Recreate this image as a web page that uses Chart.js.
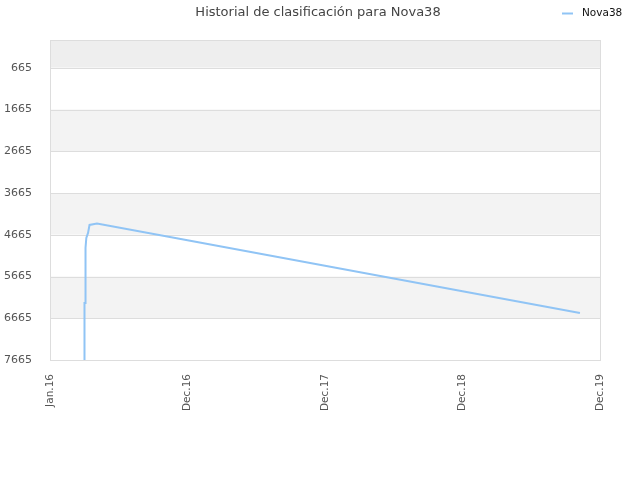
<!DOCTYPE html>
<html>
<head>
<meta charset="utf-8">
<script src="https://cdn.jsdelivr.net/npm/chart.js@4"></script>
<style>
  html, body { margin: 0; padding: 0; background: #fff; }
  #wrap { width: 640px; height: 480px; }
</style>
</head>
<body>
<div id="wrap"><canvas id="rankChart" width="640" height="480"></canvas></div>
<script>
  // months since Jan 2016
  var months = [3.01, 3.01, 3.10, 3.10, 3.17, 3.32, 3.45, 4.10, 12, 24, 36, 46.25];
  var ranks  = [7665, 6300, 6300, 4980, 4740, 4620, 4430, 4395, 4796, 5407, 6019, 6539];
  var xTickMonths = [0, 12, 24, 36, 48];
  var xTickLabels = ["Jan.16", "Dec.16", "Dec.17", "Dec.18", "Dec.19"];
  var yTicks = [665, 1665, 2665, 3665, 4665, 5665, 6665, 7665];

  var points = months.map(function (m, i) { return { x: m, y: ranks[i] }; });

  var lineColor = "rgba(144,196,245,1)";

  // background bands + frame + title + legend
  var decor = {
    id: 'decor',
    beforeDatasetsDraw: function (chart) {
      var c = chart.ctx, a = chart.chartArea, ys = chart.scales.y;
      c.save();
      // top strip above first tick
      var t0 = ys.getPixelForValue(yTicks[0]);
      c.fillStyle = "#eeeeee";
      c.fillRect(a.left, a.top, a.right - a.left, t0 - a.top);
      for (var i = 0; i < yTicks.length - 1; i++) {
        var p1 = ys.getPixelForValue(yTicks[i]);
        var p2 = ys.getPixelForValue(yTicks[i + 1]);
        c.fillStyle = (i % 2 == 1) ? "#f3f3f3" : "#ffffff";
        c.fillRect(a.left, p1, a.right - a.left, p2 - p1);
      }
      // grid lines
      c.strokeStyle = "#dddddd";
      c.lineWidth = 1;
      yTicks.forEach(function (v) {
        var p = Math.round(ys.getPixelForValue(v)) + 0.5;
        c.beginPath(); c.moveTo(a.left, p); c.lineTo(a.right, p); c.stroke();
      });
      c.strokeRect(Math.round(a.left) + 0.5, Math.round(a.top) + 0.5,
                   Math.round(a.right - a.left), Math.round(a.bottom - a.top));
      c.restore();
    },
    afterDraw: function (chart) {
      var c = chart.ctx;
      c.save();
      c.fillStyle = "#444";
      c.font = "13px 'DejaVu Sans'";
      c.textAlign = "center";
      c.textBaseline = "middle";
      c.fillText("Historial de clasificación para Nova38", 318, 13);
      // legend
      c.strokeStyle = lineColor;
      c.lineWidth = 2;
      c.beginPath(); c.moveTo(562, 13.5); c.lineTo(573, 13.5); c.stroke();
      c.fillStyle = "#111";
      c.font = "10.5px 'DejaVu Sans'";
      c.textAlign = "left";
      c.fillText("Nova38", 582, 13);
      c.restore();
    }
  };

  var ctx = document.getElementById("rankChart").getContext('2d');
  var myChart = new Chart(ctx, {
    type: 'line',
    data: {
      datasets: [{
        label: 'Nova38',
        data: points,
        borderColor: lineColor,
        backgroundColor: lineColor,
        borderWidth: 2,
        pointRadius: 0,
        tension: 0,
        fill: false
      }]
    },
    options: {
      responsive: false,
      animation: false,
      devicePixelRatio: 1,
      layout: { padding: { top: 40, right: 40, left: 0, bottom: 0 } },
      plugins: {
        legend: { display: false },
        title: { display: false },
        tooltip: { enabled: false }
      },
      scales: {
        x: {
          type: 'linear',
          min: 0,
          max: 48,
          grid: { display: false },
          border: { display: false },
          afterBuildTicks: function (s) {
            s.ticks = xTickMonths.map(function (v) { return { value: v }; });
          },
          afterFit: function (s) { s.height = 120; },
          ticks: {
            autoSkip: false,
            minRotation: 90,
            maxRotation: 90,
            padding: 6,
            color: "#555",
            font: { family: "DejaVu Sans", size: 10.5 },
            callback: function (v) {
              var i = xTickMonths.indexOf(v);
              return i >= 0 ? xTickLabels[i] : '';
            }
          }
        },
        y: {
          reverse: true,
          min: 0,
          max: 7665,
          grid: { display: false },
          border: { display: false },
          afterBuildTicks: function (s) {
            s.ticks = yTicks.map(function (v) { return { value: v }; });
          },
          afterFit: function (s) { s.width = 50; },
          ticks: {
            autoSkip: false,
            padding: 10,
            color: "#555",
            font: { family: "DejaVu Sans", size: 11 },
            callback: function (v) { return String(v); }
          }
        }
      }
    },
    plugins: [decor]
  });
</script>
</body>
</html>
